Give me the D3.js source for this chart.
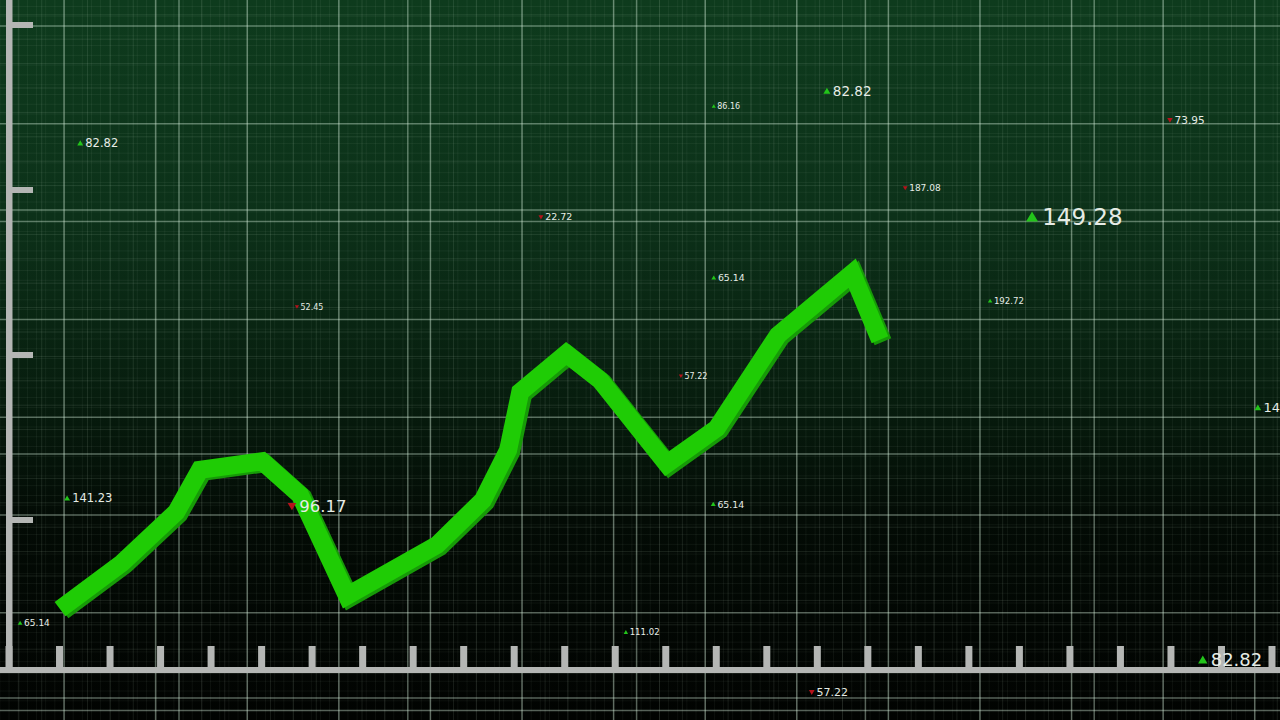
<!DOCTYPE html>
<html><head><meta charset="utf-8">
<script src="https://cdn.jsdelivr.net/npm/d3@7"></script>
<style>html,body{margin:0;padding:0;background:#000;overflow:hidden}</style>
</head><body><svg id="c" width="1280" height="720"></svg>
<script>
// ---- data ----
const pointIndex = [1.01, 2.24, 3.31, 3.78, 5.01, 5.76, 6.69, 8.47, 9.38, 9.88, 10.12, 11.03, 11.7, 13.02, 14.01, 15.22, 16.69, 17.24];
const pointValue = [11.5, 18.5, 26.2, 32.6, 33.9, 28.8, 13.5, 21.2, 28.0, 35.6, 44.4, 50.2, 46.2, 33.5, 38.9, 53.0, 62.4, 52.3];
const xTicks = d3.range(0, 26);
const yTicks = [25, 50, 75, 100];

const labelText  = ["82.82","86.16","82.82","73.95","187.08","22.72","149.28","65.14","192.72","52.45","57.22","149.28","141.23","96.17","65.14","65.14","111.02","57.22","82.82"];
const labelIndex = [1.41, 13.95, 16.19, 22.98, 17.74, 10.53, 20.25, 13.95, 19.42, 5.70, 13.30, 24.72, 1.15, 5.60, 13.94, 0.22, 12.21, 15.89, 23.63];
const labelValue = [82.1, 87.7, 90.0, 85.6, 75.3, 70.9, 70.9, 61.7, 58.2, 57.3, 46.8, 42.0, 28.3, 27.1, 27.4, 9.4, 8.0, -1.1, 3.8];
const labelTrend = [1, 1, 1, -1, -1, -1, 1, 1, 1, -1, -1, 1, 1, -1, 1, 1, 1, -1, 1];
// annotation styling (font size per label)
const labelSize  = [11.5, 8, 13.5, 10.5, 9, 9.5, 23, 9.4, 8.6, 8, 8, 13, 11.5, 16.5, 9.4, 9, 8.6, 11, 18];

// ---- setup ----
const W = 1280, H = 720;
const svg = d3.select("#c");
const x = d3.scaleLinear().domain([0, 25]).range([9, 1272]);
const y = d3.scaleLinear().domain([0, 100]).range([685, 25]);

const defs = svg.append("defs");
const bg = defs.append("linearGradient").attr("id","bg").attr("x1",0).attr("y1",0).attr("x2",0).attr("y2",1);
[[0,"#0e3b1d"],[0.3,"#0c3119"],[0.55,"#071d0e"],[0.72,"#030b05"],[1,"#010301"]]
  .forEach(([o,c]) => bg.append("stop").attr("offset", o).attr("stop-color", c));
svg.append("rect").attr("width", W).attr("height", H).attr("fill", "url(#bg)");

// ---- grids (decorative background) ----
const grid = svg.append("g");
function gridSet(x0, dx, y0, dy, sub, minorOp, majorOp) {
  const vx = [], hy = [];
  for (let v = x0 - Math.ceil(x0/dx)*dx; v <= W + 1; v += dx / sub) vx.push(v);
  for (let v = y0 - Math.ceil(y0/dy)*dy; v <= H + 1; v += dy / sub) hy.push(v);
  vx.forEach((v, i) => {
    const major = i % sub === 0;
    grid.append("line").attr("x1", v).attr("x2", v).attr("y1", 0).attr("y2", H)
      .attr("stroke", "#d8f0dc").attr("stroke-opacity", major ? majorOp : minorOp)
      .attr("stroke-width", major ? 1.5 : 1);
  });
  hy.forEach((v, i) => {
    const major = i % sub === 0;
    grid.append("line").attr("y1", v).attr("y2", v).attr("x1", 0).attr("x2", W)
      .attr("stroke", "#d8f0dc").attr("stroke-opacity", major ? majorOp : minorOp)
      .attr("stroke-width", major ? 1.5 : 1);
  });
}
gridSet(64, 91.6, 26, 97.8, 10, 0.06, 0.4);
gridSet(179, 228.8, 210, 244, 10, 0.11, 0.4);

// ---- axes ----
const axisColor = "#b4b6b4";
const ax = svg.append("g").attr("fill", axisColor);
ax.append("rect").attr("x", 6).attr("y", 0).attr("width", 6.5).attr("height", 673);
ax.selectAll("rect.yt").data(yTicks).join("rect").attr("class","yt")
  .attr("x", 12).attr("y", d => y(d) - 3).attr("width", 21).attr("height", 6);
ax.append("rect").attr("x", 0).attr("y", 667).attr("width", W).attr("height", 6);
ax.selectAll("rect.xt").data(xTicks).join("rect").attr("class","xt")
  .attr("x", d => x(d) - 3.5).attr("y", 646).attr("width", 7).attr("height", 22);

// ---- line ----
const pts = pointIndex.map((d, i) => [d, pointValue[i]]);
const lineGen = d3.line().x(d => x(d[0])).y(d => y(d[1]));
svg.append("path").attr("d", lineGen(pts)).attr("fill","none")
  .attr("stroke", "#179a08").attr("stroke-width", 18)
  .attr("stroke-linejoin","miter").attr("stroke-linecap","butt")
  .attr("transform","translate(3,2)");
svg.append("path").attr("d", lineGen(pts)).attr("fill","none")
  .attr("stroke", "#1fcc05").attr("stroke-width", 18)
  .attr("stroke-linejoin","miter").attr("stroke-linecap","butt");

// ---- labels ----
const lab = svg.append("g").attr("font-family", "'DejaVu Sans', sans-serif");
labelText.forEach((t, i) => {
  const cx = x(labelIndex[i]), cy = y(labelValue[i]), s = labelSize[i];
  const r = s * 0.26;
  const up = labelTrend[i] > 0;
  const tri = up
    ? `M${cx - r},${cy + r*0.75} L${cx + r},${cy + r*0.75} L${cx},${cy - r*0.95} Z`
    : `M${cx - r},${cy - r*0.75} L${cx + r},${cy - r*0.75} L${cx},${cy + r*0.95} Z`;
  lab.append("path").attr("d", tri).attr("fill", up ? "#22c41a" : "#b5121b");
  lab.append("text").attr("x", cx + r + s*0.18).attr("y", cy).attr("dy", "0.36em")
    .attr("font-size", s).attr("fill", "#e6ece6").text(t);
});
</script>
</body></html>
